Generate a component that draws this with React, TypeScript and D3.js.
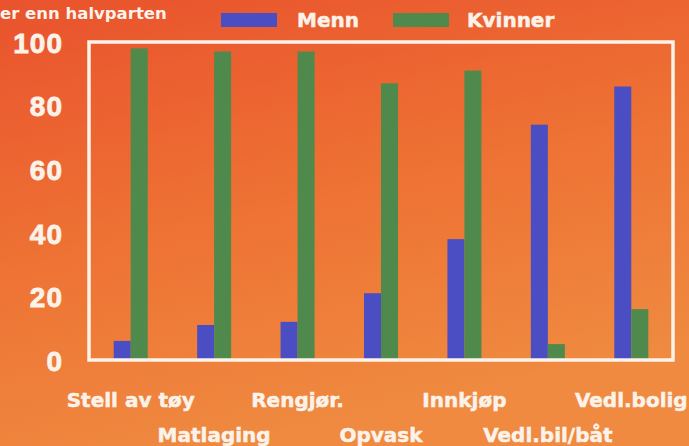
import { useEffect, useRef } from "react";
import * as d3 from "d3";

const categories = ["Stell av tøy", "Matlaging", "Rengjør.", "Opvask", "Innkjøp", "Vedl.bil/båt", "Vedl.bolig"];
const series = ["Menn", "Kvinner"];
const menn = [6, 11, 12, 21, 38, 74, 86];
const kvinner = [98, 97, 97, 87, 91, 5, 16];
const yTicks = [0, 20, 40, 60, 80, 100];
const title = "er enn halvparten";

const colors: Record<string, string> = { Menn: "#4a4ec2", Kvinner: "#4f8a4c" };
const ink = "#fbf3ea";

export default function App() {
  const svgRef = useRef<SVGSVGElement | null>(null);

  useEffect(() => {
    const width = 689;
    const height = 446;
    const plot = { left: 89, right: 673, top: 42, bottom: 360 };

    const svg = d3.select(svgRef.current).attr("width", width).attr("height", height);
    svg.selectAll("*").remove();

    // background
    const defs = svg.append("defs");
    const grad = defs
      .append("linearGradient")
      .attr("id", "bg")
      .attr("x1", 0)
      .attr("y1", 0)
      .attr("x2", 0.35)
      .attr("y2", 1);
    grad.append("stop").attr("offset", 0).attr("stop-color", "#e9522d");
    grad.append("stop").attr("offset", 0.55).attr("stop-color", "#ee7334");
    grad.append("stop").attr("offset", 1).attr("stop-color", "#ef8a40");
    svg.append("rect").attr("width", width).attr("height", height).attr("fill", "url(#bg)");

    const x = d3.scaleBand().domain(categories).range([plot.left, plot.right]).padding(0);
    const xs = d3.scaleBand().domain(series).range([0, 34]);
    const y = d3.scaleLinear().domain([0, 100]).range([plot.bottom, plot.top]);

    const rows = categories.map((c, i) => ({ cat: c, Menn: menn[i], Kvinner: kvinner[i] }));

    const g = svg.append("g");
    g.selectAll("g.grp")
      .data(rows)
      .join("g")
      .attr("class", "grp")
      .attr("transform", d => `translate(${x(d.cat)! + x.bandwidth() / 2 - 17},0)`)
      .selectAll("rect")
      .data(d => series.map(s => ({ s, v: (d as any)[s] as number })))
      .join("rect")
      .attr("x", d => xs(d.s)!)
      .attr("width", xs.bandwidth())
      .attr("y", d => y(d.v))
      .attr("height", d => y(0) - y(d.v))
      .attr("fill", d => colors[d.s]);

    // frame
    svg
      .append("rect")
      .attr("x", plot.left)
      .attr("y", plot.top)
      .attr("width", plot.right - plot.left)
      .attr("height", plot.bottom - plot.top)
      .attr("fill", "none")
      .attr("stroke", ink)
      .attr("stroke-width", 3.5);

    // y axis labels
    svg
      .append("g")
      .selectAll("text")
      .data(yTicks)
      .join("text")
      .attr("x", 63)
      .attr("y", d => y(d) + 1)
      .attr("dy", "0.35em")
      .attr("text-anchor", "end")
      .attr("font-family", "Liberation Sans, Arial, sans-serif")
      .attr("font-weight", "bold")
      .attr("font-size", 28)
      .attr("letter-spacing", 1)
      .attr("fill", ink)
      .attr("stroke", ink)
      .attr("stroke-width", 0.8)
      .text(d => d);

    // x labels, staggered in two rows
    svg
      .append("g")
      .selectAll("text")
      .data(categories)
      .join("text")
      .attr("x", d => x(d)! + x.bandwidth() / 2)
      .attr("y", (_, i) => (i % 2 === 0 ? 407 : 442))
      .attr("text-anchor", "middle")
      .attr("font-family", "DejaVu Sans, sans-serif")
      .attr("font-weight", "bold")
      .attr("font-size", 20)
      .attr("fill", ink)
      .attr("stroke", ink)
      .attr("stroke-width", 0.5)
      .text(d => d);

    // title (cut at left edge)
    svg
      .append("text")
      .attr("x", 0)
      .attr("y", 19)
      .attr("font-family", "DejaVu Sans, sans-serif")
      .attr("font-weight", "bold")
      .attr("font-size", 16.5)
      .attr("fill", ink)
      .text(title);

    // legend
    const legendX = [221, 393];
    const legend = svg
      .append("g")
      .selectAll("g")
      .data(series)
      .join("g")
      .attr("transform", (_, i) => `translate(${legendX[i]},13)`);
    legend
      .append("rect")
      .attr("width", 56)
      .attr("height", 14)
      .attr("fill", d => colors[d]);
    legend
      .append("text")
      .attr("x", (_, i) => (i === 0 ? 76 : 74))
      .attr("y", 14)
      .attr("font-family", "DejaVu Sans, sans-serif")
      .attr("font-weight", "bold")
      .attr("font-size", 20)
      .attr("fill", ink)
      .attr("stroke", ink)
      .attr("stroke-width", 0.5)
      .text(d => d);
  }, []);

  return <svg ref={svgRef} style={{ position: "absolute", left: 0, top: 0, display: "block" }}></svg>;
}
